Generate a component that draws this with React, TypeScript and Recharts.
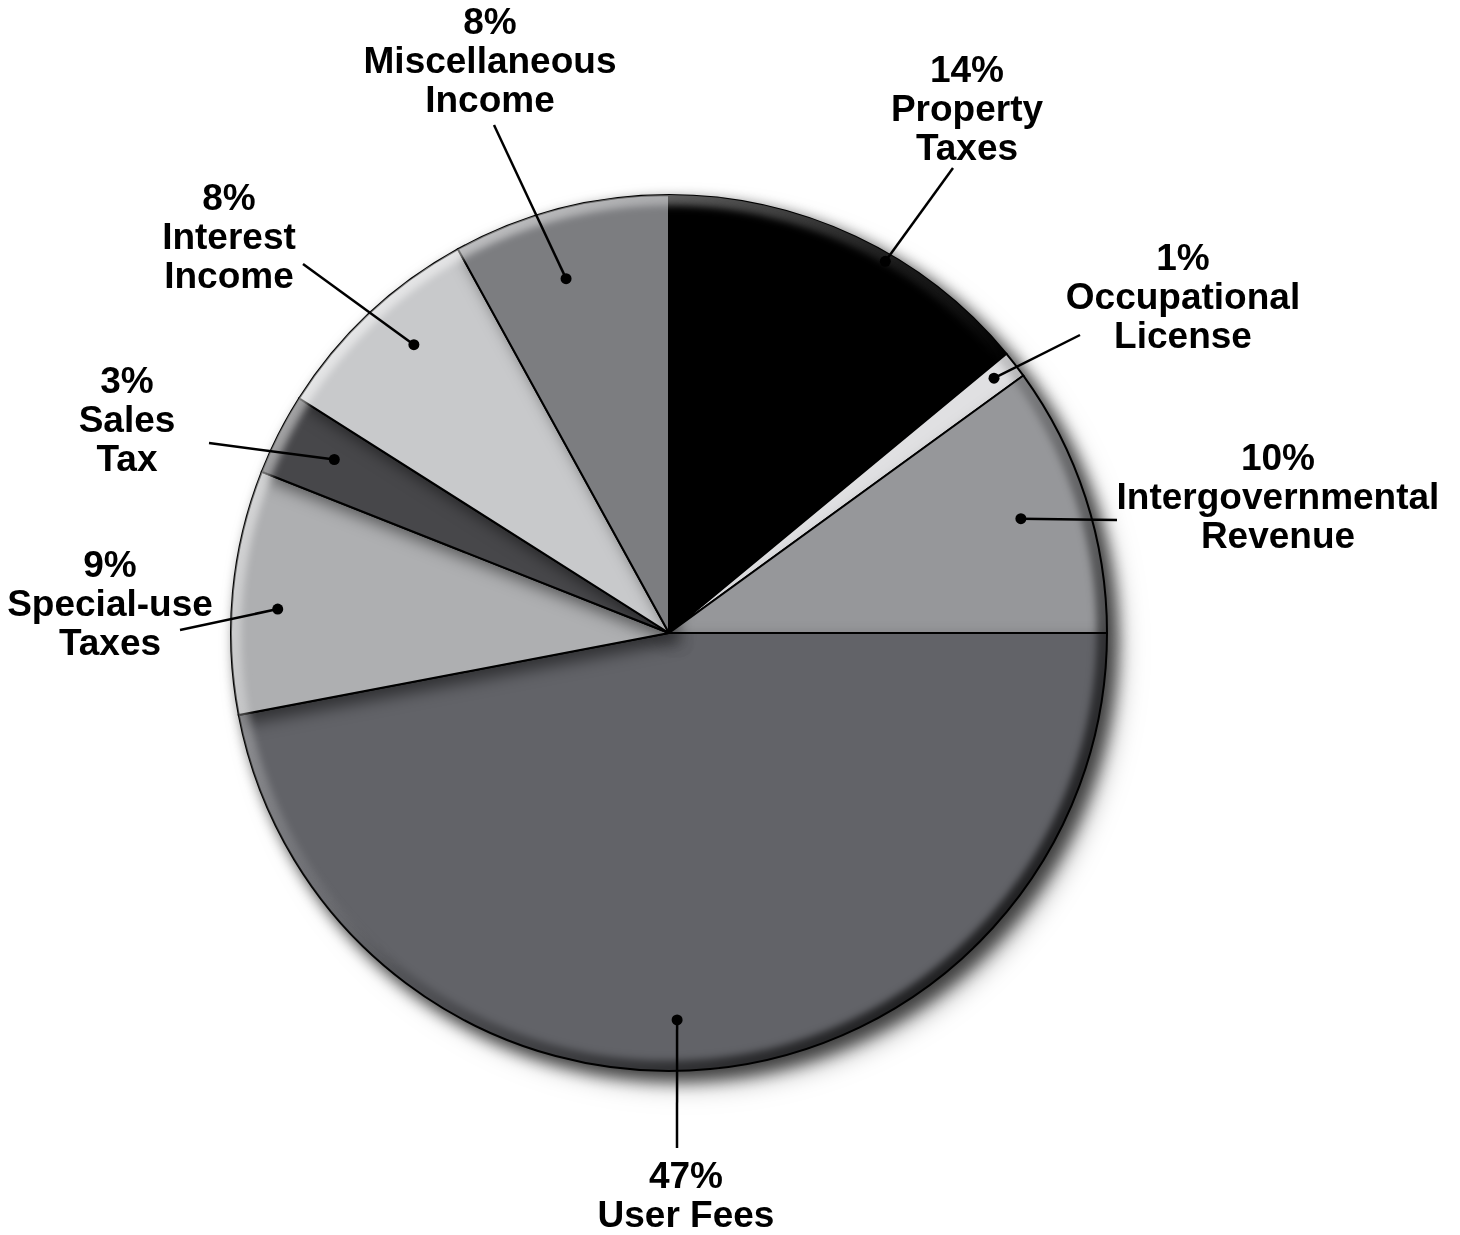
import { PieChart, Pie, Cell } from "recharts";

const categories = [
  "Property\nTaxes",
  "Occupational\nLicense",
  "Intergovernmental\nRevenue",
  "User Fees",
  "Special-use\nTaxes",
  "Sales\nTax",
  "Interest\nIncome",
  "Miscellaneous\nIncome",
];
const shares = [14, 1, 10, 47, 9, 3, 8, 8];
const sliceColors = ["#000000", "#e0e0e2", "#96979a", "#626368", "#aeafb1", "#47474a", "#c8c9cb", "#7c7d80"];

const data = categories.map((name, i) => ({ name, value: shares[i] }));

// label placement, offsets from the pie centre (tx/ty = text, lx/ly = leader end, r/da = dot)
const labelLayout = [
  { tx: 298, ty: -551, lx: 284, ly: -465, r: 430, da: -5 },
  { tx: 514, ty: -363, lx: 411, ly: -298, r: 413, da: 0.3 },
  { tx: 609, ty: -163, lx: 448, ly: -113, r: 370, da: 0 },
  { tx: 17, ty: 555, lx: 8, ly: 515, r: 387, da: -4.2 },
  { tx: -559, ty: -56, lx: -489, ly: -3, r: 392, da: 1.9 },
  { tx: -542, ty: -240, lx: -460, ly: -190, r: 377, da: -0.4 },
  { tx: -440, ty: -423, lx: -366, ly: -369, r: 385, da: -1.7 },
  { tx: -179, ty: -599, lx: -175, ly: -508, r: 369, da: 1.8 },
];

const CX = 669;
const CY = 633;
const R = 438;
const RAD = Math.PI / 180;

const renderLabel = (props: any) => {
  const { cx, cy, midAngle, index } = props;
  const l = labelLayout[index];
  const a = (midAngle + l.da) * RAD;
  const dx = cx + l.r * Math.cos(a);
  const dy = cy - l.r * Math.sin(a);
  const lines = [`${shares[index]}%`, ...categories[index].split("\n")];
  return (
    <g key={`lbl-${index}`}>
      <line x1={dx} y1={dy} x2={cx + l.lx} y2={cy + l.ly} stroke="#000" strokeWidth={2.5} />
      <circle cx={dx} cy={dy} r={5.5} fill="#000" />
      <text
        x={cx + l.tx}
        y={cy + l.ty}
        textAnchor="middle"
        fontFamily="'Liberation Sans', Arial, sans-serif"
        fontWeight="bold"
        fontSize={37}
        fill="#000"
      >
        {lines.map((t, j) => (
          <tspan key={j} x={cx + l.tx} dy={j === 0 ? 0 : 39}>
            {t}
          </tspan>
        ))}
      </text>
    </g>
  );
};

export default function App() {
  return (
    <div style={{ position: "absolute", left: 0, top: 0, width: 1460, height: 1235, background: "#fff" }}>
      <style>{`
        .base-pie { filter: drop-shadow(8px 8px 8px rgba(0,0,0,0.5)); }
        .rim-pie { mask: url(#ringMask); }
      `}</style>
      <svg width={0} height={0} style={{ position: "absolute" }}>
        <defs>
          <linearGradient id="rimGrad" gradientUnits="userSpaceOnUse" x1={CX - R * 0.75} y1={CY - R * 0.75} x2={CX + R * 0.75} y2={CY + R * 0.75}>
            <stop offset="0" stopColor="#fff" stopOpacity={0.55} />
            <stop offset="0.4" stopColor="#fff" stopOpacity={0.1} />
            <stop offset="0.55" stopColor="#000" stopOpacity={0.15} />
            <stop offset="1" stopColor="#000" stopOpacity={0.7} />
          </linearGradient>
          <filter id="ringBlur" x="-20%" y="-20%" width="140%" height="140%">
            <feGaussianBlur stdDeviation={5} />
          </filter>
          <mask id="ringMask" maskUnits="userSpaceOnUse" x={0} y={0} width={1460} height={1235}>
            <circle cx={CX} cy={CY} r={R} fill="none" stroke="#fff" strokeWidth={26} filter="url(#ringBlur)" />
          </mask>
        </defs>
      </svg>
      <PieChart width={1460} height={1235} margin={{ top: 0, right: 0, bottom: 0, left: 0 }}>
        <Pie
          className="base-pie"
          data={data}
          dataKey="value"
          nameKey="name"
          cx={CX}
          cy={CY}
          outerRadius={R}
          startAngle={90}
          endAngle={-270}
          stroke="#000"
          strokeWidth={2}
          isAnimationActive={false}
        >
          {data.map((d, i) => (
            <Cell key={`c-${i}`} fill={sliceColors[i]} />
          ))}
        </Pie>
        <Pie
          className="rim-pie"
          data={data}
          dataKey="value"
          cx={CX}
          cy={CY}
          outerRadius={R}
          startAngle={90}
          endAngle={-270}
          fill="url(#rimGrad)"
          stroke="none"
          isAnimationActive={false}
        />
        <Pie
          data={data}
          dataKey="value"
          cx={CX}
          cy={CY}
          outerRadius={R}
          startAngle={90}
          endAngle={-270}
          fill="none"
          stroke="none"
          label={renderLabel}
          labelLine={false}
          isAnimationActive={false}
        />
      </PieChart>
    </div>
  );
}
